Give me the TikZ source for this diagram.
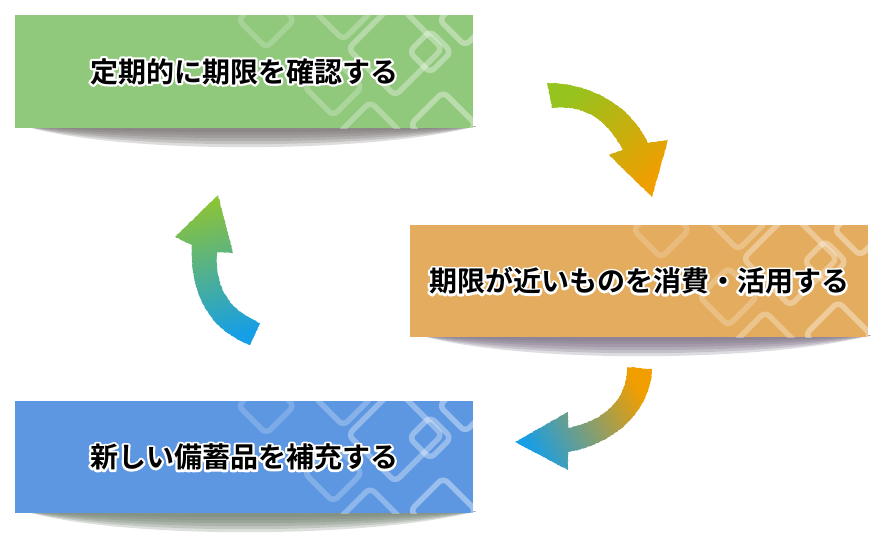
\documentclass[tikz,border=0pt]{standalone}
\usepackage{fontspec}
\newfontfamily\jpfont{Noto Sans CJK JP}[BoldFont={Noto Sans CJK JP Bold}]
\newfontfamily\jphalo{Noto Sans CJK JP}[BoldFont={Noto Sans CJK JP Bold}, BoldFeatures={FakeBold=16}]
\usetikzlibrary{calc,backgrounds,decorations.pathmorphing}

\definecolor{boxgreen}{RGB}{144,200,124}
\definecolor{boxorange}{RGB}{228,172,94}
\definecolor{boxblue}{RGB}{93,151,226}
\definecolor{shadegreen}{RGB}{112,106,106}
\definecolor{shadeorange}{RGB}{114,102,124}
\definecolor{shadeblue}{RGB}{102,118,102}
\definecolor{arrgreen}{RGB}{150,195,30}
\definecolor{arrorange}{RGB}{240,158,0}
\definecolor{arrblue}{RGB}{22,158,230}
\definecolor{arrlime}{RGB}{140,195,55}

% black text with a white halo (round joins for the halo stroke)
\newcommand{\steptext}[1]{\raisebox{-4pt}{\special{pdf:literal direct 1 j 1 J}\rlap{\jphalo\color{white}#1}#1}}

% fill, curled shadow and diamond pattern behind a box
\newcommand{\boxback}[3]{%
  \foreach \k in {0,...,5}
    \fill[#3, opacity=0.23] ($(#1.south west)+(10,-2)$) .. controls ($(#1.south west)+(105,6+4*\k)$) and ($(#1.south east)+(-105,6+4*\k)$) .. ($(#1.south east)+(3,-2)$) -- cycle;
  \fill[#2] (#1.south west) rectangle (#1.north east);
  \begin{scope}
    \clip (#1.south west) rectangle (#1.north east);
    \foreach \dx/\dy/\r/\op in {-207/5/28/0.2, -130/-3/28/0.26, -78/34/47/0.34, -43/37/21/0.36,
        -140/72/29/0.24, -103/118/31/0.3, -30/110/33/0.38, -8/5/26/0.38}
      \draw[ring, opacity=\op] ($(#1.north east)+(\dx-\r,\dy)$) -- ++(\r,-\r) -- ++(\r,\r) -- ++(-\r,\r) -- cycle;
  \end{scope}}

\tikzset{
  stepbox/.style={minimum width=458pt, minimum height=113pt, inner sep=0pt,
    font=\jpfont\bfseries\fontsize{28}{33}\selectfont},
  ring/.style={draw=white, line width=5.5pt, rounded corners=6pt},
  roughedge/.style={decorate, decoration={random steps, segment length=1.2pt, amplitude=0.4pt}},
}

\begin{document}
\begin{tikzpicture}[x=1pt, y=-1pt]
\useasboundingbox (0,0) rectangle (888,550);

%Steps
\node[stepbox] (check) at (244,71.5) {\steptext{定期的に期限を確認する}};
\node[stepbox, minimum height=112pt] (use) at (639,281) {\steptext{期限が近いものを消費・活用する}};
\node[stepbox, minimum height=112pt] (refill) at (244,457) {\steptext{新しい備蓄品を補充する}};

\begin{scope}[on background layer]
\boxback{check}{boxgreen}{shadegreen}
\boxback{use}{boxorange}{shadeorange}
\boxback{refill}{boxblue}{shadeblue}
\end{scope}

%Curved arrows
\shade[roughedge, top color=arrgreen, bottom color=arrorange, shading angle=45]
  (547,83) .. controls (590,83) and (630,105) .. (648,143) -- (668,140) -- (652,197) -- (609,155)
  -- (623,150) .. controls (605,118) and (585,105) .. (552,108) -- cycle;
\shade[roughedge, top color=arrorange, bottom color=arrblue, shading angle=-60]
  (652,369) .. controls (650,415) and (610,445) .. (568,452) -- (568,470) -- (515,442) -- (568,412)
  -- (568,428) .. controls (605,420) and (627,400) .. (627,367) -- cycle;
\shade[roughedge, top color=arrlime, bottom color=arrblue, shading angle=15]
  (250,345) .. controls (210,330) and (190,295) .. (192,245) -- (175,237) -- (218,195) -- (233,253)
  -- (217,252) .. controls (215,290) and (230,310) .. (260,323) -- cycle;
\end{tikzpicture}
\end{document}
